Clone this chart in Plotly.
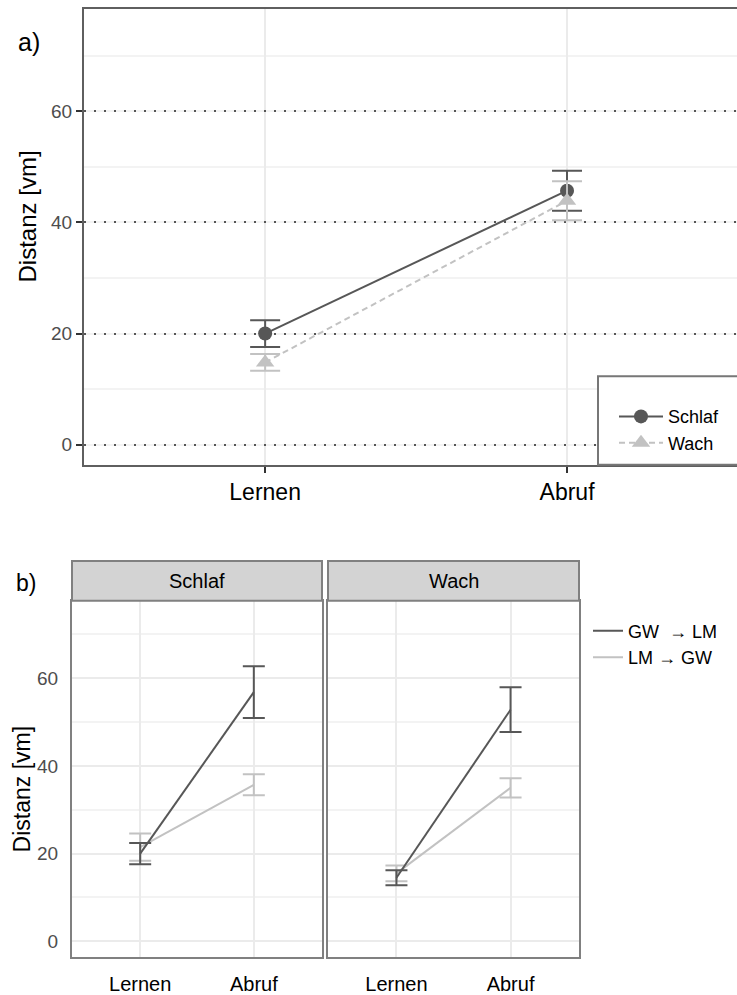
import plotly.graph_objects as go

# ---------------- data ----------------
phases = ["Lernen", "Abruf"]

# panel a) – condition means with error bars
schlaf_mean = [20.0, 45.7]
schlaf_err = [2.4, 3.6]
wach_mean = [14.8, 43.9]
wach_err = [1.5, 3.5]

# panel b) – facets by condition, lines by direction
facets = ["Schlaf", "Wach"]
gwlm_schlaf_mean = [20.0, 56.8]
gwlm_schlaf_err = [2.4, 5.9]
lmgw_schlaf_mean = [21.5, 35.7]
lmgw_schlaf_err = [3.1, 2.4]
gwlm_wach_mean = [14.5, 52.8]
gwlm_wach_err = [1.7, 5.1]
lmgw_wach_mean = [15.5, 35.0]
lmgw_wach_err = [1.8, 2.2]
direction_names = ["GW\u00a0 \u2192 LM", "LM \u2192 GW"]

yticks = [0, 20, 40, 60]

# ---------------- styling helpers ----------------
W, H = 737, 995
def px_x(x):
    return x / W
def px_y(y):
    return 1 - y / H

FONT = "Liberation Sans, Arial, sans-serif"
DARK = "#575757"
LIGHT = "#c2c2c2"
GRID = "#ebebeb"
MINOR = "#f3f3f3"

fig = go.Figure()

# ---------------- panel a ----------------
fig.add_trace(go.Scatter(
    x=phases, y=schlaf_mean, name="Schlaf", mode="lines+markers",
    line=dict(color=DARK, width=2),
    marker=dict(symbol="circle", size=14, color=DARK),
    error_y=dict(type="data", array=schlaf_err, color=DARK, thickness=2, width=15),
    xaxis="x", yaxis="y", legend="legend"))
fig.add_trace(go.Scatter(
    x=phases, y=wach_mean, name="Wach", mode="lines+markers",
    line=dict(color=LIGHT, width=2, dash="6px,4px"),
    marker=dict(symbol="triangle-up", size=16, color=LIGHT),
    error_y=dict(type="data", array=wach_err, color=LIGHT, thickness=2, width=15),
    xaxis="x", yaxis="y", legend="legend"))

# ---------------- panel b ----------------
b_series = [
    ("x2", "y2", lmgw_schlaf_mean, lmgw_schlaf_err, LIGHT, direction_names[1], True),
    ("x2", "y2", gwlm_schlaf_mean, gwlm_schlaf_err, DARK, direction_names[0], True),
    ("x3", "y3", lmgw_wach_mean, lmgw_wach_err, LIGHT, direction_names[1], False),
    ("x3", "y3", gwlm_wach_mean, gwlm_wach_err, DARK, direction_names[0], False),
]
for xa, ya, m, e, c, nm, sl in b_series:
    fig.add_trace(go.Scatter(
        x=phases, y=m, name=nm, mode="lines", showlegend=sl,
        legendrank=1 if c == DARK else 2,
        line=dict(color=c, width=2),
        error_y=dict(type="data", array=e, color=c, thickness=2, width=11),
        xaxis=xa, yaxis=ya, legend="legend2"))

tickfont_a = dict(family=FONT, size=19, color="#4d4d4d")
tickfont_b = dict(family=FONT, size=19, color="#4d4d4d")

layout = dict(
    width=W, height=H,
    margin=dict(l=0, r=0, t=0, b=0),
    paper_bgcolor="white", plot_bgcolor="white",
    font=dict(family=FONT, color="black"),
    # panel a axes
    xaxis=dict(domain=[px_x(84), 1.0], range=[-0.6, 1.563], type="category",
               categoryorder="array", categoryarray=phases,
               showgrid=True, gridcolor=GRID, gridwidth=2,
               showline=True, linecolor="#5f5f5f", linewidth=2, mirror=True,
               ticks="outside", ticklen=6, tickwidth=2, tickcolor="#333333",
               tickfont=dict(family=FONT, size=23, color="black"), zeroline=False,
               anchor="y"),
    yaxis=dict(domain=[px_y(468), px_y(9)], range=[-3.6, 78.4],
               tickvals=yticks, showgrid=True, gridcolor="#555555", gridwidth=2,
               griddash="2px,8px",
               minor=dict(dtick=10, tick0=0, showgrid=True, gridcolor=MINOR, gridwidth=2,
                          griddash="solid"),
               showline=True, linecolor="#5f5f5f", linewidth=2,
               ticks="outside", ticklen=6, tickwidth=2, tickcolor="#333333",
               tickfont=tickfont_a, zeroline=False, anchor="x"),
    # panel b axes
    xaxis2=dict(domain=[px_x(72), px_x(322)], range=[-0.6, 1.6], type="category",
                categoryorder="array", categoryarray=phases,
                showgrid=True, gridcolor=GRID, gridwidth=1.5,
                showline=True, linecolor="#808080", linewidth=2, mirror=True,
                ticks="", ticklabelstandoff=8,
                tickfont=dict(family=FONT, size=20, color="black"), zeroline=False,
                anchor="y2"),
    yaxis2=dict(domain=[px_y(964), px_y(605)], range=[-3.62, 77.65],
                tickvals=yticks, showgrid=True, gridcolor=GRID, gridwidth=1.5,
                minor=dict(dtick=10, tick0=0, showgrid=True, gridcolor=MINOR, gridwidth=1.5),
                showline=True, linecolor="#808080", linewidth=2, mirror=True,
                ticks="", ticklabelstandoff=8,
                tickfont=tickfont_b, zeroline=False, anchor="x2"),
    xaxis3=dict(domain=[px_x(328), px_x(579)], range=[-0.6, 1.6], type="category",
                categoryorder="array", categoryarray=phases,
                showgrid=True, gridcolor=GRID, gridwidth=1.5,
                showline=True, linecolor="#808080", linewidth=2, mirror=True,
                ticks="", ticklabelstandoff=8,
                tickfont=dict(family=FONT, size=20, color="black"), zeroline=False,
                anchor="y3"),
    yaxis3=dict(domain=[px_y(964), px_y(605)], range=[-3.62, 77.65],
                tickvals=yticks, showgrid=True, gridcolor=GRID, gridwidth=1.5,
                minor=dict(dtick=10, tick0=0, showgrid=True, gridcolor=MINOR, gridwidth=1.5),
                showline=True, linecolor="#808080", linewidth=2, mirror=True,
                ticks="", showticklabels=False, zeroline=False, anchor="x3"),
    legend=dict(x=px_x(614), y=px_y(401), xanchor="left", yanchor="top",
                bgcolor="rgba(0,0,0,0)", borderwidth=0, itemwidth=44,
                font=dict(family=FONT, size=18, color="black"),
                traceorder="normal", tracegroupgap=0),
    legend2=dict(x=px_x(588), y=px_y(617), xanchor="left", yanchor="top",
                 bgcolor="rgba(0,0,0,0)", borderwidth=0,
                 font=dict(family=FONT, size=18, color="black"),
                 traceorder="normal", tracegroupgap=0),
    showlegend=True,
)
fig.update_layout(**layout)

shapes = []
# legend box of panel a
shapes.append(dict(type="rect", xref="paper", yref="paper",
                   x0=px_x(598), x1=px_x(745), y0=px_y(468), y1=px_y(379),
                   line=dict(color="#777777", width=2), fillcolor="white", layer="above"))
# strips of panel b
strip_x = [(72, 322), (328, 579)]
annotations = []
for (x0, x1), lab in zip(strip_x, facets):
    shapes.append(dict(type="rect", xref="paper", yref="paper",
                       x0=px_x(x0), x1=px_x(x1), y0=px_y(605), y1=px_y(565),
                       line=dict(color="#808080", width=2), fillcolor="#d3d3d3"))
    annotations.append(dict(xref="paper", yref="paper", x=px_x((x0 + x1) / 2), y=px_y(585),
                            text=lab, showarrow=False, xanchor="center", yanchor="middle",
                            font=dict(family=FONT, size=20, color="black")))

# panel labels and axis titles
annotations += [
    dict(xref="paper", yref="paper", x=px_x(16), y=px_y(42), text="a)", showarrow=False,
         xanchor="left", yanchor="middle", font=dict(family=FONT, size=25, color="black")),
    dict(xref="paper", yref="paper", x=px_x(14), y=px_y(587), text="b)", showarrow=False,
         xanchor="left", yanchor="middle", font=dict(family=FONT, size=23, color="black")),
    dict(xref="paper", yref="paper", x=px_x(27), y=px_y(218), text="Distanz [vm]", showarrow=False,
         textangle=-90, xanchor="center", yanchor="middle",
         font=dict(family=FONT, size=24, color="black")),
    dict(xref="paper", yref="paper", x=px_x(22), y=px_y(795), text="Distanz [vm]", showarrow=False,
         textangle=-90, xanchor="center", yanchor="middle",
         font=dict(family=FONT, size=23, color="black")),
]
fig.update_layout(shapes=shapes, annotations=annotations)

fig.write_html("out.html")
